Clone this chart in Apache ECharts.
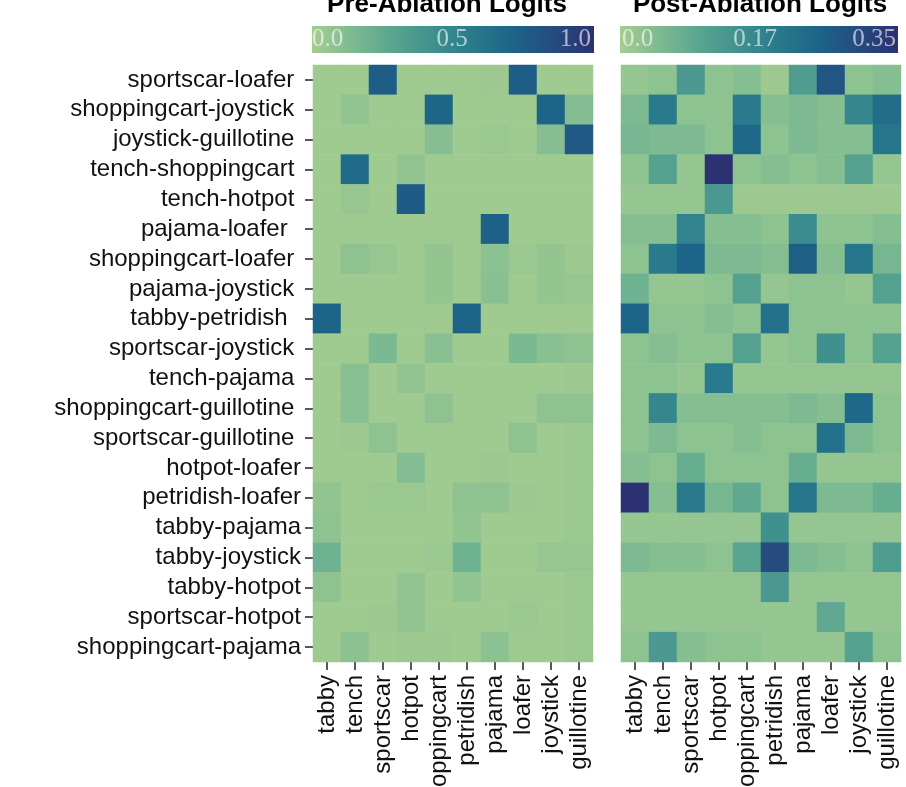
<!DOCTYPE html>
<html>
<head>
<meta charset="utf-8">
<script src="https://cdn.jsdelivr.net/npm/echarts@6/dist/echarts.min.js"></script>
<style>
html,body{margin:0;padding:0;background:#fff;}
#chart{width:906px;height:787px;}
</style>
</head>
<body>
<div id="chart"></div>
<script>
// Column categories (x axis)
const columns = ['tabby','tench','sportscar','hotpot','shoppingcart','petridish','pajama','loafer','joystick','guillotine'];
// Row categories (y axis), top to bottom
const rows = ['sportscar-loafer','shoppingcart-joystick','joystick-guillotine','tench-shoppingcart','tench-hotpot','pajama-loafer','shoppingcart-loafer','pajama-joystick','tabby-petridish','sportscar-joystick','tench-pajama','shoppingcart-guillotine','sportscar-guillotine','hotpot-loafer','petridish-loafer','tabby-pajama','tabby-joystick','tabby-hotpot','sportscar-hotpot','shoppingcart-pajama'];
// Row tick labels as printed (some with trailing spaces)
const rowLabels = ['sportscar-loafer ','shoppingcart-joystick ','joystick-guillotine ','tench-shoppingcart ','tench-hotpot ','pajama-loafer  ','shoppingcart-loafer ','pajama-joystick ','tabby-petridish  ','sportscar-joystick ','tench-pajama ','shoppingcart-guillotine ','sportscar-guillotine ','hotpot-loafer','petridish-loafer','tabby-pajama','tabby-joystick','tabby-hotpot','sportscar-hotpot','shoppingcart-pajama'];

// Pre-ablation logits (rows x columns)
const preValues = [
  [0.02,0.02,0.75,0.02,0.02,0.02,0.03,0.75,0.02,0.02],
  [0.02,0.07,0.02,0.02,0.70,0.02,0.02,0.02,0.72,0.12],
  [0.02,0.02,0.02,0.02,0.11,0.02,0.04,0.02,0.11,0.78],
  [0.02,0.68,0.02,0.07,0.02,0.02,0.02,0.02,0.02,0.02],
  [0.02,0.05,0.02,0.76,0.02,0.02,0.02,0.02,0.02,0.02],
  [0.02,0.02,0.02,0.02,0.02,0.02,0.73,0.02,0.02,0.02],
  [0.02,0.08,0.05,0.02,0.06,0.02,0.09,0.04,0.06,0.03],
  [0.02,0.02,0.02,0.02,0.06,0.02,0.10,0.02,0.06,0.05],
  [0.72,0.02,0.02,0.02,0.02,0.72,0.02,0.02,0.02,0.02],
  [0.02,0.02,0.15,0.02,0.10,0.02,0.02,0.15,0.10,0.08],
  [0.02,0.10,0.02,0.07,0.02,0.02,0.02,0.02,0.02,0.03],
  [0.02,0.10,0.02,0.02,0.08,0.02,0.02,0.02,0.08,0.08],
  [0.02,0.03,0.08,0.02,0.02,0.02,0.02,0.08,0.02,0.04],
  [0.02,0.02,0.02,0.12,0.02,0.02,0.03,0.02,0.02,0.04],
  [0.07,0.02,0.04,0.04,0.02,0.08,0.08,0.03,0.02,0.04],
  [0.08,0.02,0.02,0.02,0.02,0.07,0.02,0.02,0.02,0.04],
  [0.20,0.02,0.02,0.02,0.04,0.20,0.02,0.02,0.05,0.05],
  [0.08,0.02,0.02,0.07,0.02,0.07,0.02,0.02,0.02,0.04],
  [0.02,0.02,0.03,0.07,0.02,0.02,0.02,0.04,0.02,0.04],
  [0.02,0.09,0.02,0.03,0.03,0.02,0.09,0.02,0.02,0.04]
];

// Post-ablation logits (rows x columns)
const postValues = [
  [0.02,0.03,0.13,0.03,0.04,0.01,0.12,0.28,0.03,0.04],
  [0.05,0.20,0.03,0.03,0.20,0.04,0.05,0.04,0.17,0.23],
  [0.06,0.05,0.05,0.03,0.24,0.03,0.05,0.04,0.04,0.21],
  [0.03,0.11,0.02,0.35,0.03,0.04,0.03,0.04,0.11,0.02],
  [0.02,0.02,0.02,0.13,0.01,0.01,0.01,0.01,0.01,0.01],
  [0.04,0.04,0.18,0.04,0.04,0.03,0.16,0.03,0.03,0.04],
  [0.03,0.20,0.25,0.05,0.05,0.04,0.26,0.04,0.21,0.06],
  [0.07,0.02,0.02,0.03,0.11,0.02,0.03,0.03,0.02,0.11],
  [0.25,0.03,0.03,0.04,0.03,0.22,0.03,0.03,0.03,0.03],
  [0.03,0.04,0.03,0.03,0.11,0.02,0.03,0.15,0.03,0.11],
  [0.03,0.03,0.02,0.20,0.02,0.02,0.02,0.02,0.02,0.02],
  [0.03,0.17,0.04,0.04,0.04,0.04,0.05,0.04,0.24,0.03],
  [0.03,0.05,0.03,0.03,0.04,0.03,0.03,0.22,0.05,0.03],
  [0.04,0.03,0.08,0.03,0.03,0.03,0.08,0.02,0.02,0.02],
  [0.35,0.04,0.20,0.06,0.09,0.03,0.21,0.05,0.05,0.08],
  [0.02,0.02,0.02,0.02,0.02,0.15,0.02,0.02,0.02,0.02],
  [0.05,0.04,0.04,0.03,0.10,0.30,0.05,0.04,0.03,0.12],
  [0.02,0.02,0.02,0.02,0.02,0.13,0.02,0.02,0.02,0.02],
  [0.02,0.02,0.02,0.02,0.02,0.02,0.02,0.09,0.02,0.02],
  [0.03,0.13,0.04,0.03,0.03,0.02,0.02,0.02,0.11,0.03]
];

const preRange = [0, 1.0];
const postRange = [0, 0.35];
const preTicks = ['0.0', '0.5', '1.0'];
const postTicks = ['0.0', '0.17', '0.35'];
const titles = ['Pre-Ablation Logits', 'Post-Ablation Logits'];

// crest-like colormap
const crest = ['#a5cd90','#7dba91','#59a590','#40908e','#287a8c','#1c6488','#254b7f','#2c3172'];

function toData(mat) {
  const out = [];
  mat.forEach((row, r) => row.forEach((v, c) => out.push([c, r, v])));
  return out;
}

const grids = [
  {left: 313, top: 65, width: 280, height: 597, containLabel: false, outerBoundsMode: 'none'},
  {left: 621, top: 65, width: 280, height: 597, containLabel: false, outerBoundsMode: 'none'}
];
const bars = [
  {x: 312, y: 26, w: 282, h: 27},
  {x: 620, y: 26, w: 278, h: 27}
];

const labelFont = 'Liberation Sans, Arial, Helvetica, sans-serif';

function xAxis(i) {
  return {
    type: 'category', gridIndex: i, data: columns, position: 'bottom',
    axisLine: {show: false},
    axisTick: {show: true, length: 8, alignWithLabel: true, lineStyle: {color: '#222', width: 1.5}},
    axisLabel: {rotate: 90, margin: 13, fontSize: 24, color: '#111', fontFamily: labelFont, interval: 0, hideOverlap: false},
    splitLine: {show: false}
  };
}
function yAxis(i) {
  return {
    type: 'category', gridIndex: i, data: rows, inverse: true,
    axisLine: {show: false},
    axisTick: {show: i === 0, length: 8, alignWithLabel: true, lineStyle: {color: '#222', width: 1.5}},
    axisLabel: {
      show: i === 0, margin: 12, fontSize: 24, color: '#111', fontFamily: labelFont, interval: 0, hideOverlap: false,
      formatter: (val, idx) => rowLabels[idx]
    },
    splitLine: {show: false}
  };
}

const graphics = [];
[0, 1].forEach(i => {
  const b = bars[i];
  const stops = crest.map((c, k) => ({offset: k / (crest.length - 1), color: c}));
  graphics.push({
    type: 'rect', shape: {x: b.x, y: b.y, width: b.w, height: b.h},
    style: {fill: new echarts.graphic.LinearGradient(0, 0, 1, 0, stops)}, silent: true
  });
  const ticks = i === 0 ? preTicks : postTicks;
  const aligns = ['left', 'center', 'right'];
  const xs = i === 0 ? [312, 452, 591] : [622, 755, 896];
  ticks.forEach((t, k) => {
    graphics.push({
      type: 'text', x: xs[k], y: b.y + b.h / 2,
      style: {text: t, fill: 'rgba(255,255,255,0.62)', font: '25px "Liberation Serif", "Times New Roman", serif',
        align: aligns[k], verticalAlign: 'middle'}, silent: true
    });
  });
  graphics.push({
    type: 'text', x: i === 0 ? 447 : 760, y: 5,
    style: {text: titles[i], fill: '#000', font: 'bold 26px "Liberation Sans", Arial, sans-serif',
      align: 'center', verticalAlign: 'middle'}, silent: true
  });
});

const chart = echarts.init(document.getElementById('chart'), null, {renderer: 'canvas'});
chart.setOption({
  animation: false,
  backgroundColor: '#fff',
  grid: grids,
  xAxis: [xAxis(0), xAxis(1)],
  yAxis: [yAxis(0), yAxis(1)],
  visualMap: [
    {type: 'continuous', show: false, seriesIndex: 0, min: preRange[0], max: preRange[1], inRange: {color: crest}},
    {type: 'continuous', show: false, seriesIndex: 1, min: postRange[0], max: postRange[1], inRange: {color: crest}}
  ],
  series: [
    {type: 'heatmap', xAxisIndex: 0, yAxisIndex: 0, data: toData(preValues), itemStyle: {borderWidth: 0}, emphasis: {disabled: true}},
    {type: 'heatmap', xAxisIndex: 1, yAxisIndex: 1, data: toData(postValues), itemStyle: {borderWidth: 0}, emphasis: {disabled: true}}
  ],
  graphic: graphics
});
</script>
</body>
</html>
